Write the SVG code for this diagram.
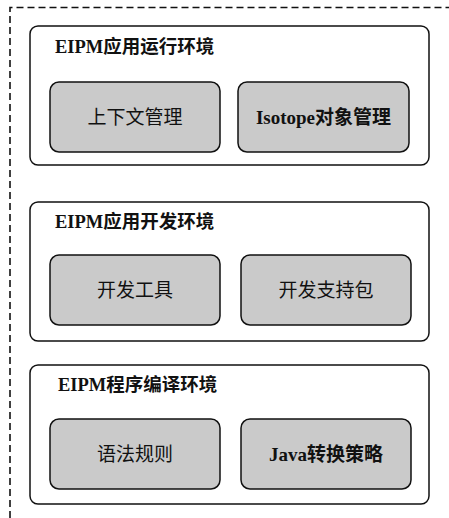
<svg xmlns="http://www.w3.org/2000/svg" width="449" height="518" viewBox="0 0 449 518">
<style>
.outer{fill:none;stroke:#111;stroke-width:1.6;stroke-dasharray:7 4}
.panel{fill:#fff;stroke:#111;stroke-width:1.5}
.box{fill:#cacaca;stroke:#111;stroke-width:1.5}
.title{font-family:"Liberation Serif","Noto Sans CJK SC",serif;font-size:18.5px;font-weight:bold;fill:#111}
.lbl{font-family:"Liberation Serif","Noto Sans CJK SC",serif;font-size:19px;fill:#111;text-anchor:middle;dominant-baseline:central}
.lblb{font-weight:bold}
</style>
<rect x="0" y="0" width="449" height="518" fill="#fff"/>
<g id="outer">
<path class="outer" d="M10 518 V7.5 H449"/>
</g>
<g id="panel-run">
<rect class="panel" x="30" y="26" width="399" height="139" rx="8"/>
<text class="title" x="55" y="53">EIPM应用运行环境</text>
</g>
<g id="node-context">
<rect class="box" x="50" y="82" width="170" height="70" rx="9"/>
<text class="lbl" x="135" y="117">上下文管理</text>
</g>
<g id="node-isotope">
<rect class="box" x="238" y="82" width="171" height="70" rx="9"/>
<text class="lbl lblb" x="323.5" y="117">Isotope对象管理</text>
</g>
<g id="panel-dev">
<rect class="panel" x="30" y="202" width="399" height="139" rx="8"/>
<text class="title" x="55" y="228">EIPM应用开发环境</text>
</g>
<g id="node-tools">
<rect class="box" x="50" y="255" width="170" height="70" rx="9"/>
<text class="lbl" x="135" y="290">开发工具</text>
</g>
<g id="node-sdk">
<rect class="box" x="241" y="255" width="170" height="70" rx="9"/>
<text class="lbl" x="326" y="290">开发支持包</text>
</g>
<g id="panel-compile">
<rect class="panel" x="30" y="365" width="399" height="139" rx="8"/>
<text class="title" x="58" y="391">EIPM程序编译环境</text>
</g>
<g id="node-grammar">
<rect class="box" x="50" y="419" width="170" height="70" rx="9"/>
<text class="lbl" x="135" y="454">语法规则</text>
</g>
<g id="node-java">
<rect class="box" x="241" y="419" width="170" height="70" rx="9"/>
<text class="lbl lblb" x="326" y="454">Java转换策略</text>
</g>
<g id="connectors"></g>
</svg>
